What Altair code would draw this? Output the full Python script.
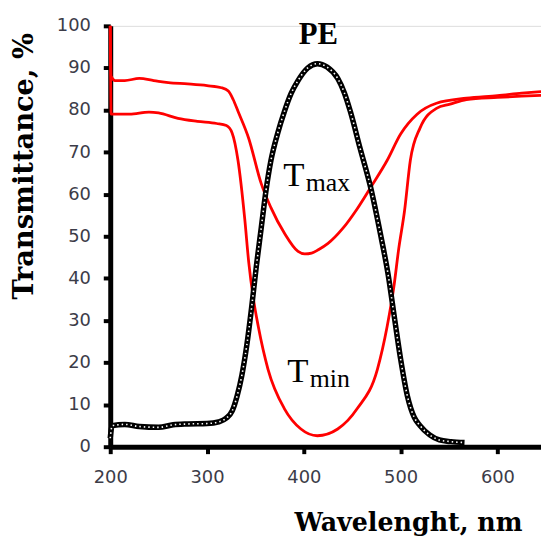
import altair as alt
import pandas as pd

# ---- data ----
tmax_wl = [200, 201, 205, 215, 230, 245, 260, 280, 300, 315, 322, 327, 332, 343, 356, 366, 380, 394, 401,
           408, 415, 425, 440, 455, 469, 486, 500, 517, 537, 568, 600, 625, 645]
tmax_val = [100, 88, 87, 87, 87.5, 87, 86.5, 86.2, 85.8, 85.3, 84.5, 82.5, 79.7, 73.3, 62.5, 56.8, 50.7, 46.4, 45.8,
            46.0, 46.8, 48.3, 51.8, 56.5, 61.6, 68, 74.3, 79, 81.6, 82.8, 83.4, 84, 84.4]

tmin_wl = [200, 201, 205, 220, 240, 250, 270, 290, 310, 320, 326, 332, 339, 343, 348, 353, 363, 380, 397, 414,
           435, 455, 476, 486, 493, 498, 504, 510, 520, 537, 551, 568, 600, 625, 645]
tmin_val = [100, 79, 79, 79, 79.5, 79.3, 78, 77.3, 76.8, 76.3, 74.5, 68, 54, 44, 35, 28.5, 18.4, 9, 4.2, 2.6,
            4.2, 9, 18.4, 28.5, 38, 47, 56, 68, 75.7, 80.4, 81.4, 82.5, 83.0, 83.3, 83.5]

pe_wl = [200, 202, 215, 230, 250, 265, 280, 300, 312, 320, 326, 331, 336, 341, 346, 351, 356, 361, 366, 373,
         380, 387, 394, 404, 414, 424, 435, 442, 448, 458, 469, 479, 487, 494, 500, 507, 514, 520, 530, 540,
         552, 566]
pe_val = [2, 5, 5.3, 4.8, 4.6, 5.2, 5.4, 5.5, 5.9, 6.8, 8.5, 12, 17, 24, 33, 43, 52, 61, 68, 74.5,
          79.7, 84, 87, 90, 91, 90.2, 87.5, 84, 79.7, 71, 61.6, 50.7, 41, 30, 20.8, 12, 7, 5, 2.8, 1.6,
          1.2, 1.0]

x_ticks = [200, 300, 400, 500, 600]
y_ticks = [0, 10, 20, 30, 40, 50, 60, 70, 80, 90, 100]

title_label = ["PE"]
t_label = ["T", "T"]
sub_label = ["max", "min"]
t_x = [389.7, 393.8]
t_y = [62.0, 15.3]
sub_x = [402.0, 406.0]
sub_y = [60.8, 14.2]

tmax_df = pd.DataFrame({"wl": tmax_wl, "T": tmax_val})
tmin_df = pd.DataFrame({"wl": tmin_wl, "T": tmin_val})
pe_df = pd.DataFrame({"wl": pe_wl, "T": pe_val})

xscale = alt.Scale(domain=[200, 645], nice=False, zero=False)
yscale = alt.Scale(domain=[0, 100], nice=False)

xaxis = alt.Axis(values=x_ticks, title="Wavelenght, nm", grid=False, labelFlush=False,
                 domainColor="black", domainWidth=5, tickColor="black", tickWidth=4, tickSize=7,
                 labelFont="DejaVu Sans", labelFontSize=18, labelColor="#3c3c48", labelPadding=15,
                 titleFont="DejaVu Serif", titleFontWeight="bold", titleFontSize=25.5, titleColor="black",
                 titleX=300, titleY=84, titleAlign="center", titleBaseline="alphabetic")
yaxis = alt.Axis(values=y_ticks, title="Transmittance, %", grid=False, labelFlush=False,
                 domainColor="black", domainWidth=5, tickColor="black", tickWidth=4, tickSize=7,
                 labelFont="DejaVu Sans", labelFontSize=18, labelColor="#3c3c48", labelPadding=13,
                 titleFont="DejaVu Serif", titleFontWeight="bold", titleFontSize=27.5, titleColor="black",
                 titleX=-78, titleY=141, titleAlign="center", titleBaseline="alphabetic", titleAngle=270)

tmax_line = alt.Chart(tmax_df).mark_line(color="#ff0000", strokeWidth=2.8, interpolate="monotone").encode(
    x=alt.X("wl:Q", scale=xscale, axis=xaxis),
    y=alt.Y("T:Q", scale=yscale, axis=yaxis),
)
tmin_line = alt.Chart(tmin_df).mark_line(color="#ff0000", strokeWidth=2.8, interpolate="monotone").encode(
    x=alt.X("wl:Q", scale=xscale),
    y=alt.Y("T:Q", scale=yscale),
)
pe_black = alt.Chart(pe_df).mark_line(color="black", strokeWidth=5.5, interpolate="monotone").encode(
    x=alt.X("wl:Q", scale=xscale),
    y=alt.Y("T:Q", scale=yscale),
)
pe_white = alt.Chart(pe_df).mark_line(color="white", strokeWidth=1.6, strokeDash=[1.5, 3],
                                      interpolate="monotone").encode(
    x=alt.X("wl:Q", scale=xscale),
    y=alt.Y("T:Q", scale=yscale),
)

pe_text = alt.Chart(pd.DataFrame({"label": title_label})).mark_text(
    font="Liberation Serif", fontWeight="bold", fontSize=31, color="black", baseline="alphabetic", align="center"
).encode(x=alt.datum(415), y=alt.datum(95.75), text="label:N")

t_text = alt.Chart(pd.DataFrame({"label": t_label, "x": t_x, "y": t_y})).mark_text(
    font="Liberation Serif", fontSize=35, color="black", baseline="alphabetic", align="center"
).encode(x=alt.X("x:Q", scale=xscale), y=alt.Y("y:Q", scale=yscale), text="label:N")

sub_text = alt.Chart(pd.DataFrame({"label": sub_label, "x": sub_x, "y": sub_y})).mark_text(
    font="Liberation Serif", fontSize=26, color="black", baseline="alphabetic", align="left"
).encode(x=alt.X("x:Q", scale=xscale), y=alt.Y("y:Q", scale=yscale), text="label:N")

chart = alt.layer(tmax_line, tmin_line, pe_black, pe_white, pe_text, t_text, sub_text).properties(
    width=434, height=424,
    padding={"left": 103, "top": 16, "right": 0, "bottom": 91},
    autosize=alt.AutoSizeParams(type="none"),
).configure_view(strokeWidth=0).configure(background="white")

chart.save("out.html", embed_options={"renderer": "svg", "actions": False})
